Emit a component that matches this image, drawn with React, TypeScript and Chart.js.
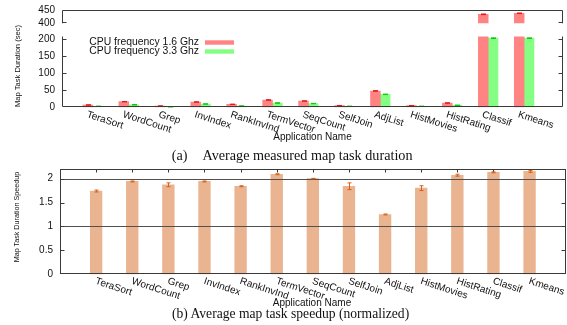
import React, { useEffect, useRef } from 'react';
import { Chart, registerables } from 'chart.js';

Chart.register(...registerables);

// ---------- data ----------
const categories = ['TeraSort', 'WordCount', 'Grep', 'InvIndex', 'RankInvInd', 'TermVector', 'SeqCount', 'SelfJoin', 'AdjList', 'HistMovies', 'HistRating', 'Classif', 'Kmeans'];
const duration16 = [6.8, 16.5, 3.8, 15.6, 8.8, 21.5, 18.5, 5, 48, 5, 12.6, 434.6, 438.5];
const duration33 = [3, 7.6, 1.5, 9.7, 3.8, 12.6, 11, 3, 38, 3, 6, 203, 203];
const err16 = [0.5, 0.6, 0.4, 0.6, 0.5, 0.7, 0.6, 0.4, 0.8, 0.4, 0.5, 1.2, 1.2];
const err33 = [0.4, 0.5, 0.3, 0.5, 0.4, 0.6, 0.5, 0.3, 0.7, 0.3, 0.4, 1.0, 1.0];
const seriesLabels = ['CPU frequency 1.6 Ghz', 'CPU frequency 3.3 Ghz'];
const upperTicks = [400, 450];
const lowerTicks = [0, 50, 100, 150, 200];
const speedup = [1.74, 1.94, 1.87, 1.94, 1.84, 2.09, 2.0, 1.84, 1.25, 1.8, 2.07, 2.13, 2.15];
const speedupErr = [0.02, 0.01, 0.04, 0.01, 0.01, 0.01, 0.005, 0.07, 0.01, 0.05, 0.02, 0.01, 0.02];
const speedupTicks = [0, 0.5, 1, 1.5, 2];
const refLines = [1, 2];

// ---------- styles ----------
const SANS = '"Liberation Sans", Arial, Helvetica, sans-serif';
const SERIF = '"Liberation Serif", "DejaVu Serif", serif';
const RED = '#ff8383';
const GREEN = '#84ff84';
const RED_ERR = '#e01818';
const GREEN_ERR = '#18c018';
const PEACH = '#e9b48f';
const PEACH_ERR = '#d5601a';
const FRAME = '#3a3a3a';
const LABEL_ROT = (18 * Math.PI) / 180;

const W = 567;

function drawXLabels(chart: any, dx: number, dy: number) {
  const ctx = chart.ctx;
  const xs = chart.scales.x;
  const bottom = chart.chartArea.bottom;
  ctx.save();
  ctx.fillStyle = '#111';
  ctx.font = `10px ${SANS}`;
  ctx.textAlign = 'left';
  ctx.textBaseline = 'middle';
  categories.forEach((c, i) => {
    const x = xs.getPixelForValue(i);
    ctx.save();
    ctx.translate(x + dx, bottom + dy);
    ctx.rotate(LABEL_ROT);
    ctx.fillText(c, 0, 0);
    ctx.restore();
  });
  ctx.restore();
}

function drawErrors(chart: any, dsIndex: number, values: number[], errs: number[], color: string, half: number) {
  const ctx = chart.ctx;
  const ys = chart.scales.y;
  const meta = chart.getDatasetMeta(dsIndex);
  ctx.save();
  ctx.strokeStyle = color;
  ctx.lineWidth = 1;
  values.forEach((v, i) => {
    if (v == null || v < ys.min || v > ys.max) return;
    const el = meta.data[i];
    if (!el) return;
    const x = Math.round(el.x) + 0.5;
    const y1 = ys.getPixelForValue(v + errs[i]);
    const y2 = ys.getPixelForValue(v - errs[i]);
    ctx.beginPath();
    ctx.moveTo(x, y1);
    ctx.lineTo(x, y2);
    ctx.moveTo(x - half, y1);
    ctx.lineTo(x + half, y1);
    ctx.moveTo(x - half, y2);
    ctx.lineTo(x + half, y2);
    ctx.stroke();
  });
  ctx.restore();
}

function line(ctx: any, x1: number, y1: number, x2: number, y2: number) {
  ctx.beginPath();
  ctx.moveTo(x1, y1);
  ctx.lineTo(x2, y2);
  ctx.stroke();
}

const yAxis = (min: number, max: number, ticks: number[], width: number, padding: number) => ({
  type: 'linear',
  position: 'left',
  min,
  max,
  afterFit: (s: any) => {
    s.width = width;
    s.paddingTop = 0;
    s.paddingBottom = 0;
  },
  afterBuildTicks: (s: any) => {
    s.ticks = ticks.map((v) => ({ value: v }));
  },
  grid: { display: false, drawTicks: false },
  border: { display: false },
  ticks: {
    padding,
    autoSkip: false,
    color: '#111',
    font: { family: SANS, size: 10 },
    callback: (v: any) => String(v),
  },
});

const topX = { type: 'linear', min: -0.855, max: 13.09, offset: false, display: false };

function upperConfig(): any {
  return {
    type: 'bar',
    data: {
      datasets: [
        { label: seriesLabels[0], data: categories.map((_, i) => ({ x: i, y: duration16[i] })), backgroundColor: RED, barThickness: 9.8 },
        { label: seriesLabels[1], data: categories.map((_, i) => ({ x: i, y: duration33[i] })), backgroundColor: GREEN, barThickness: 9.8 },
      ],
    },
    options: {
      responsive: false,
      animation: false,
      layout: { padding: { left: 0, right: 3.7, top: 10.3, bottom: 6.7 } },
      scales: { x: topX, y: yAxis(upperTicks[0], upperTicks[upperTicks.length - 1], upperTicks, 62, 7) },
      plugins: { legend: { display: false }, tooltip: { enabled: false } },
    },
    plugins: [
      {
        id: 'upperDecor',
        afterDatasetsDraw(chart: any) {
          const { left, right, top, bottom } = chart.chartArea;
          const ctx = chart.ctx;
          drawErrors(chart, 0, duration16, err16, RED_ERR, 2.5);
          drawErrors(chart, 1, duration33, err33, GREEN_ERR, 2.5);
          ctx.save();
          ctx.strokeStyle = FRAME;
          ctx.lineWidth = 1;
          const L = Math.round(left) + 0.5;
          const R = Math.round(right) - 0.5;
          const T = Math.round(top) + 0.5;
          line(ctx, L, T, R, T);
          line(ctx, L, T, L, bottom);
          line(ctx, R, T, R, bottom);
          const yb = Math.round(chart.scales.y.getPixelForValue(upperTicks[0])) - 0.5;
          line(ctx, L, yb, L + 4, yb);
          line(ctx, R, yb, R - 4, yb);
          ctx.restore();
        },
      },
    ],
  };
}

function lowerConfig(): any {
  return {
    type: 'bar',
    data: {
      datasets: [
        { label: seriesLabels[0], data: categories.map((_, i) => ({ x: i, y: duration16[i] })), backgroundColor: RED, barThickness: 9.8 },
        { label: seriesLabels[1], data: categories.map((_, i) => ({ x: i, y: duration33[i] })), backgroundColor: GREEN, barThickness: 9.8 },
      ],
    },
    options: {
      responsive: false,
      animation: false,
      layout: { padding: { left: 0, right: 3.7, top: 8.5, bottom: 37.7 } },
      scales: { x: topX, y: yAxis(0, 208, lowerTicks, 62, 7) },
      plugins: { legend: { display: false }, tooltip: { enabled: false } },
    },
    plugins: [
      {
        id: 'lowerDecor',
        afterDatasetsDraw(chart: any) {
          const { left, right, top, bottom } = chart.chartArea;
          const ctx = chart.ctx;
          drawErrors(chart, 0, duration16, err16, RED_ERR, 2.5);
          drawErrors(chart, 1, duration33, err33, GREEN_ERR, 2.5);
          ctx.save();
          ctx.strokeStyle = FRAME;
          ctx.lineWidth = 1;
          const L = Math.round(left) + 0.5;
          const R = Math.round(right) - 0.5;
          const B = Math.round(bottom) - 0.5;
          line(ctx, L, top, L, B);
          line(ctx, R, top, R, B);
          line(ctx, L, B, R, B);
          lowerTicks.forEach((v) => {
            if (v === 0) return;
            const y = Math.round(chart.scales.y.getPixelForValue(v)) + 0.5;
            line(ctx, L, y, L + 4, y);
            line(ctx, R, y, R - 4, y);
          });
          ctx.restore();

          // legend
          const colors = [RED, GREEN];
          ctx.save();
          ctx.font = `10.4px ${SANS}`;
          ctx.fillStyle = '#111';
          ctx.textAlign = 'right';
          ctx.textBaseline = 'middle';
          seriesLabels.forEach((lab, k) => {
            const cy = top + 6 + k * 9;
            ctx.fillText(lab, 199, cy);
            ctx.fillStyle = colors[k];
            ctx.fillRect(205, cy - 2.2, 29, 4.4);
            ctx.fillStyle = '#111';
          });
          ctx.restore();
        },
        afterDraw(chart: any) {
          drawXLabels(chart, -5.7, 7);
        },
      },
    ],
  };
}

function speedupConfig(): any {
  return {
    type: 'bar',
    data: {
      datasets: [
        { label: 'Speedup', data: categories.map((_, i) => ({ x: i, y: speedup[i] })), backgroundColor: PEACH, barThickness: 11.7 },
      ],
    },
    options: {
      responsive: false,
      animation: false,
      layout: { padding: { left: 0, right: 1.3, top: 11, bottom: 50.7 } },
      scales: {
        x: { type: 'linear', min: -1, max: 13, offset: false, display: false },
        y: yAxis(0, 2.2, speedupTicks, 60, 7),
      },
      plugins: { legend: { display: false }, tooltip: { enabled: false } },
    },
    plugins: [
      {
        id: 'speedDecor',
        afterDatasetsDraw(chart: any) {
          const { left, right, top, bottom } = chart.chartArea;
          const ctx = chart.ctx;
          const ys = chart.scales.y;
          const xs = chart.scales.x;
          ctx.save();
          ctx.strokeStyle = '#505050';
          ctx.lineWidth = 1;
          refLines.forEach((v) => {
            const y = Math.round(ys.getPixelForValue(v)) + 0.5;
            line(ctx, left, y, right, y);
          });
          ctx.strokeStyle = FRAME;
          const L = Math.round(left) + 0.5;
          const R = Math.round(right) - 0.5;
          const T = Math.round(top) + 0.5;
          const B = Math.round(bottom) - 0.5;
          ctx.strokeRect(L, T, R - L, B - T);
          speedupTicks.forEach((v) => {
            if (v === 0) return;
            const y = Math.round(ys.getPixelForValue(v)) + 0.5;
            line(ctx, L, y, L + 4, y);
            line(ctx, R, y, R - 4, y);
          });
          categories.forEach((_, i) => {
            const x = Math.round(xs.getPixelForValue(i)) + 0.5;
            line(ctx, x, T, x, T + 3);
          });
          ctx.restore();
          drawErrors(chart, 0, speedup, speedupErr, PEACH_ERR, 2);
        },
        afterDraw(chart: any) {
          drawXLabels(chart, -0.4, 6.7);
        },
      },
    ],
  };
}

function ChartCanvas({ top, height, make }: { top: number; height: number; make: () => any }) {
  const ref = useRef<HTMLCanvasElement | null>(null);
  useEffect(() => {
    if (!ref.current) return;
    const chart = new Chart(ref.current, make());
    return () => chart.destroy();
  }, []);
  return <canvas ref={ref} width={W} height={height} style={{ position: 'absolute', left: 0, top, width: W, height }} />;
}

const textStyle = (x: number, y: number, font: string, size: number, rotate = 0): React.CSSProperties => ({
  position: 'absolute',
  left: x,
  top: y,
  transform: `translate(-50%, -50%) rotate(${rotate}deg)`,
  fontFamily: font,
  fontSize: size,
  lineHeight: 1,
  whiteSpace: 'pre',
  color: '#111',
});

const leftText = (x: number, y: number, font: string, size: number): React.CSSProperties => ({
  position: 'absolute',
  left: x,
  top: y,
  transform: 'translate(0, -50%)',
  fontFamily: font,
  fontSize: size,
  lineHeight: 1,
  whiteSpace: 'pre',
  color: '#111',
});

export default function App() {
  return (
    <div style={{ position: 'absolute', left: 0, top: 0, width: W, height: 325, background: '#fff', overflow: 'hidden' }}>
      <ChartCanvas top={0} height={30} make={upperConfig} />
      <ChartCanvas top={28} height={117} make={lowerConfig} />
      <ChartCanvas top={158} height={167} make={speedupConfig} />
      <div style={textStyle(18, 66, SANS, 7.6, -90)}>Map Task Duration (sec)</div>
      <div style={textStyle(312.5, 137, SANS, 10)}>Application Name</div>
      <div style={leftText(171.7, 155, SERIF, 14.2)}>
        <span>(a)</span>
        <span style={{ marginLeft: 15 }}>Average measured map task duration</span>
      </div>
      <div style={textStyle(17, 217, SANS, 7.2, -90)}>Map Task Duration Speedup</div>
      <div style={textStyle(312, 303, SANS, 10)}>Application Name</div>
      <div style={leftText(172, 314, SERIF, 13.6)}>(b) Average map task speedup (normalized)</div>
    </div>
  );
}
